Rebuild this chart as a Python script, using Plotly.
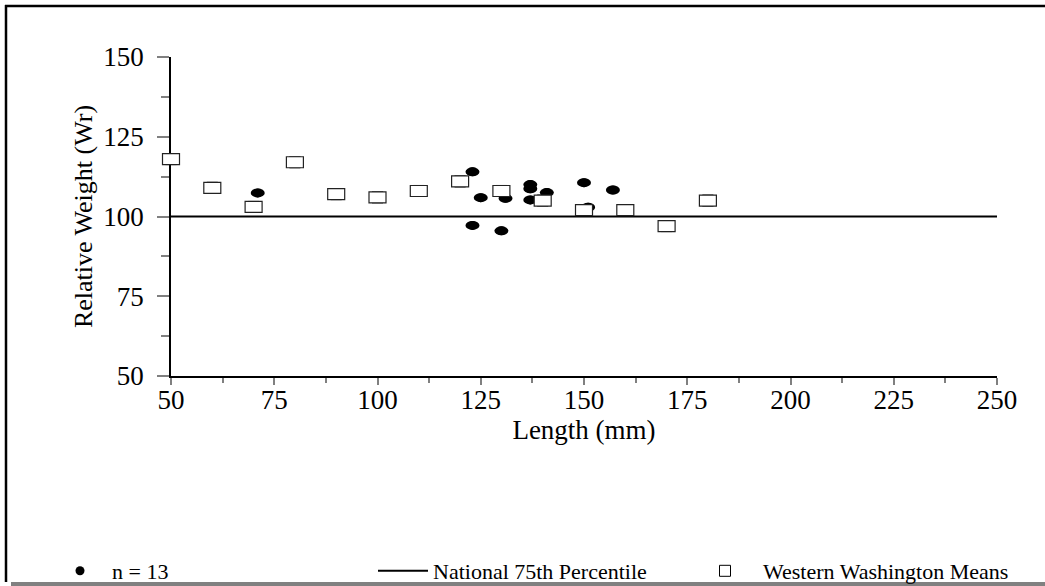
import plotly.graph_objects as go

# ---- data ----
sample_length = [71, 123, 125, 131, 137, 137, 137, 141, 123, 130, 150, 151, 157]
sample_wr = [107.4, 114.0, 105.9, 105.7, 110.0, 108.7, 105.2, 107.5, 97.2, 95.5, 110.6, 102.9, 108.3]

ww_length = [50, 60, 70, 80, 90, 100, 110, 120, 130, 140, 150, 160, 170, 180]
ww_wr = [118, 109, 103, 117, 107, 106, 108, 111, 108, 105, 102, 102, 97, 105]

nat_length = [50, 250]
nat_wr = [100, 100]

x_ticks = [50, 75, 100, 125, 150, 175, 200, 225, 250]
y_ticks = [50, 75, 100, 125, 150]

X_RANGE = [50, 250]
Y_RANGE = [50, 150]

FONT = "Liberation Serif"
FIG_W, FIG_H = 1045, 586

fig = go.Figure()

fig.add_trace(go.Scatter(
    x=nat_length, y=nat_wr, mode="lines", name="National 75th Percentile",
    line=dict(color="black", width=2), legend="legend2", hoverinfo="skip"))

fig.add_trace(go.Scatter(
    x=sample_length, y=sample_wr, mode="markers", name="n = 13",
    marker=dict(symbol="circle", size=9, color="black"), legend="legend"))

fig.add_trace(go.Scatter(
    x=ww_length, y=ww_wr, mode="markers", name="Western Washington Means",
    marker=dict(symbol="square", size=11, color="white",
                line=dict(color="black", width=1)), legend="legend3",
    cliponaxis=False))


def xdom(v):
    """position of a data value on the x axis, as a fraction of the axis"""
    return (v - X_RANGE[0]) / (X_RANGE[1] - X_RANGE[0])


def ydom(v):
    return (v - Y_RANGE[0]) / (Y_RANGE[1] - Y_RANGE[0])


shapes = []
# ellipse-shaped dots anchored at the data points
for xv, yv in zip(sample_length, sample_wr):
    shapes.append(dict(type="circle", xref="x", yref="y",
                       xsizemode="pixel", ysizemode="pixel",
                       xanchor=xv, yanchor=yv, x0=-7, x1=7, y0=-4.5, y1=4.5,
                       fillcolor="black", line=dict(color="black", width=0),
                       layer="above"))
# white rectangles for the means (axis-relative so the one on the axis is not clipped)
for xv, yv in zip(ww_length, ww_wr):
    shapes.append(dict(type="rect", xref="x domain", yref="y domain",
                       xsizemode="pixel", ysizemode="pixel",
                       xanchor=xdom(xv), yanchor=ydom(yv),
                       x0=-8.5, x1=8.5, y0=-5.5, y1=5.5,
                       fillcolor="white", line=dict(color="#222", width=1.2),
                       layer="above"))

# outer frame: left & top black, bottom gray bar
PX_L, PX_R, PX_T, PX_B = 171, 997, 57, 376
W = PX_R - PX_L
H = PX_B - PX_T


def px2x(p):
    return (p - PX_L) / W


def py2y(p):
    return (PX_B - p) / H


def cx(p):
    return p / FIG_W


def cy(p):
    return 1 - p / FIG_H


shapes.append(dict(type="line", xref="paper", yref="paper",
                   x0=px2x(6), x1=px2x(6), y0=py2y(5), y1=py2y(582),
                   line=dict(color="black", width=2.5)))
shapes.append(dict(type="line", xref="paper", yref="paper",
                   x0=px2x(5), x1=px2x(1050), y0=py2y(6), y1=py2y(6),
                   line=dict(color="black", width=2.5)))
shapes.append(dict(type="rect", xref="paper", yref="paper",
                   x0=px2x(11), x1=px2x(1050), y0=py2y(582), y1=py2y(590),
                   fillcolor="#808080", line=dict(width=0)))

legend_common = dict(orientation="h", yanchor="middle", xanchor="left",
                     xref="container", yref="container",
                     font=dict(family=FONT, size=22, color="black"),
                     bgcolor="rgba(0,0,0,0)", borderwidth=0)

fig.update_layout(
    width=FIG_W, height=FIG_H,
    margin=dict(l=PX_L, r=FIG_W - PX_R, t=PX_T, b=FIG_H - PX_B, pad=0,
                autoexpand=False),
    paper_bgcolor="white", plot_bgcolor="white",
    font=dict(family=FONT, size=27, color="black"),
    shapes=shapes,
    showlegend=True,
    legend=dict(x=cx(48), y=cy(571), itemwidth=54, **legend_common),
    legend2=dict(x=cx(373), y=cy(571), itemwidth=50, **legend_common),
    legend3=dict(x=cx(687), y=cy(571), itemwidth=66, **legend_common),
    xaxis=dict(
        range=X_RANGE, tickmode="array", tickvals=x_ticks,
        ticktext=[str(v) for v in x_ticks],
        showgrid=False, zeroline=False,
        showline=True, linecolor="black", linewidth=1.5,
        ticks="outside", ticklen=7, tickcolor="#808080", tickwidth=1.5,
        minor=dict(dtick=12.5, tick0=50, ticks="outside", ticklen=5,
                   tickcolor="#808080", tickwidth=1.5, showgrid=False),
        tickfont=dict(family=FONT, size=27, color="black"),
        ticklabelstandoff=-8,
        title=dict(text="Length (mm)", font=dict(family=FONT, size=27), standoff=0),
    ),
    yaxis=dict(
        range=Y_RANGE, tickmode="array", tickvals=y_ticks,
        ticktext=[str(v) for v in y_ticks],
        showgrid=False, zeroline=False,
        showline=True, linecolor="black", linewidth=1.5,
        ticks="outside", ticklen=12, tickcolor="#808080", tickwidth=1.5,
        minor=dict(dtick=12.5, tick0=50, ticks="outside", ticklen=8,
                   tickcolor="#808080", tickwidth=1.5, showgrid=False),
        tickfont=dict(family=FONT, size=27, color="black"),
        ticklabelstandoff=8,
        title=dict(text="Relative Weight (Wr)", font=dict(family=FONT, size=26), standoff=3),
    ),
)

fig.write_html(
    "out.html",
    config={"displayModeBar": False},
    post_script="document.body.style.margin='0';document.body.style.padding='0';"
                "document.body.style.overflow='hidden';",
)
